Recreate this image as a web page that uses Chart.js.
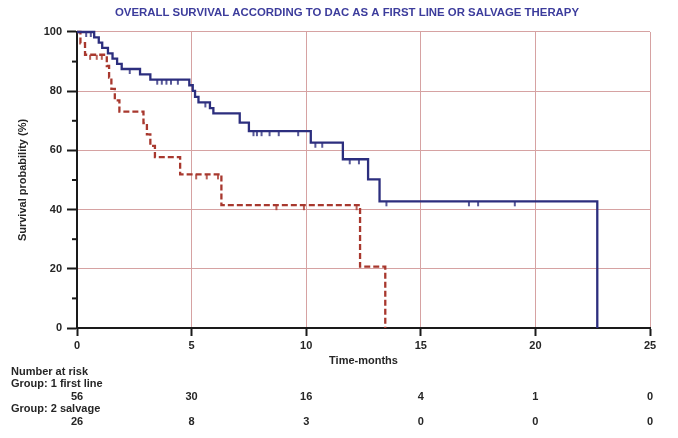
<!DOCTYPE html>
<html><head><meta charset="utf-8">
<script src="https://cdn.jsdelivr.net/npm/chart.js@4.4.0/dist/chart.umd.min.js"></script>
<style>html,body{margin:0;padding:0;background:#fff;}#wrap{width:678px;height:438px;}</style>
</head><body><div id="wrap"><canvas id="c" width="678" height="438"></canvas></div>
<script>
const chartTitle = 'OVERALL SURVIVAL ACCORDING TO DAC AS A FIRST LINE OR SALVAGE THERAPY';
const xTitle = 'Time-months';
const yTitle = 'Survival probability (%)';

// Group 1: first line — step points (time in months, survival % after the event)
const firstLineTimes    = [0, 0.75, 0.95, 1.1, 1.35, 1.55, 1.75, 1.95, 2.75, 3.2, 4.9, 5.05, 5.15, 5.3, 5.8, 5.95, 7.1, 7.5, 10.2, 11.6, 12.7, 13.2, 22.7];
const firstLineSurvival = [100, 98.2, 96.4, 94.6, 92.8, 91.0, 89.2, 87.5, 85.7, 83.9, 82.0, 80.1, 78.1, 76.2, 74.3, 72.5, 69.4, 66.5, 62.6, 57.0, 50.2, 42.8, 0];
const firstLineCensored = [0.4, 0.6, 2.3, 3.5, 3.7, 3.9, 4.1, 4.4, 5.6, 7.7, 7.85, 8.05, 8.4, 8.8, 9.65, 10.4, 10.7, 11.9, 12.3, 13.5, 17.1, 17.5, 19.1];

// Group 2: salvage
const salvageTimes    = [0, 0.15, 0.35, 1.3, 1.4, 1.5, 1.65, 1.85, 2.9, 3.05, 3.2, 3.4, 4.5, 6.3, 12.35, 13.45];
const salvageSurvival = [100, 96.2, 92.3, 88.5, 84.6, 80.8, 76.9, 73.1, 69.2, 65.4, 61.5, 57.7, 51.9, 41.5, 20.7, 0];
const salvageCensored = [0.57, 0.86, 1.08, 5.2, 5.66, 6.15, 8.7, 9.9, 12.2];

// Number at risk table
const riskTimes = [0, 5, 10, 15, 20, 25];
const riskFirstLine = [56, 30, 16, 4, 1, 0];
const riskSalvage = [26, 8, 3, 0, 0, 0];
const riskHeader = 'Number at risk';
const groupLabels = ['Group: 1 first line', 'Group: 2 salvage'];
const yMinorTicks = [10, 30, 50, 70, 90];

const BLUE = '#2c2e7e', RED = '#a8382e', GRID = '#d6a2a2', INK = '#262626';
const FONT = "'Liberation Sans', Arial, sans-serif";

function survAt(times, surv, t) {
  let s = surv[0];
  for (let i = 0; i < times.length; i++) if (times[i] <= t) s = surv[i];
  return s;
}
function tickImg(color) {
  const c = document.createElement('canvas');
  c.width = 4; c.height = 14;
  const g = c.getContext('2d');
  g.strokeStyle = color; g.lineWidth = 1.6;
  g.beginPath(); g.moveTo(2, 7); g.lineTo(2, 12); g.stroke();
  return c;
}
const pts = (ts, ss) => ts.map((t, i) => ({x: t, y: ss[i]}));

Chart.defaults.font.family = FONT;
Chart.defaults.font.weight = 'bold';
Chart.defaults.font.size = 11;
Chart.defaults.color = INK;

const extras = {
  id: 'extras',
  afterDraw(chart) {
    const {ctx, scales: {x, y}} = chart;
    ctx.save();
    ctx.strokeStyle = '#1a1a1a'; ctx.lineWidth = 2;
    yMinorTicks.forEach(v => {
      const py = y.getPixelForValue(v);
      ctx.beginPath(); ctx.moveTo(x.left - 5, py); ctx.lineTo(x.left, py); ctx.stroke();
    });
    ctx.fillStyle = INK;
    ctx.font = 'bold 11px ' + FONT;
    ctx.textBaseline = 'middle';
    ctx.textAlign = 'left';
    const b = chart.chartArea.bottom;
    ctx.fillText(riskHeader, 11, b + 44);
    ctx.fillText(groupLabels[0], 11, b + 56);
    ctx.fillText(groupLabels[1], 11, b + 81);
    ctx.textAlign = 'center';
    riskTimes.forEach((t, i) => {
      const px = x.getPixelForValue(t);
      ctx.fillText(String(riskFirstLine[i]), px, b + 69);
      ctx.fillText(String(riskSalvage[i]), px, b + 94);
    });
    ctx.restore();
  }
};

new Chart(document.getElementById('c'), {
  type: 'scatter',
  data: {
    datasets: [
      {type: 'line', label: 'first line', data: pts(firstLineTimes, firstLineSurvival), stepped: true,
       borderColor: BLUE, borderWidth: 2.3, pointRadius: 0, fill: false, clip: 4},
      {type: 'line', label: 'salvage', data: pts(salvageTimes, salvageSurvival), stepped: true,
       borderColor: RED, borderWidth: 2.3, borderDash: [6, 3], pointRadius: 0, fill: false, clip: 4},
      {label: 'first line censored', data: firstLineCensored.map(t => ({x: t, y: survAt(firstLineTimes, firstLineSurvival, t)})),
       pointStyle: tickImg(BLUE), pointRadius: 3, showLine: false},
      {label: 'salvage censored', data: salvageCensored.map(t => ({x: t, y: survAt(salvageTimes, salvageSurvival, t)})),
       pointStyle: tickImg(RED), pointRadius: 3, showLine: false}
    ]
  },
  options: {
    responsive: false,
    animation: false,
    devicePixelRatio: 1,
    layout: {padding: {left: 16, right: 0, top: 0, bottom: 66}},
    plugins: {
      legend: {display: false},
      tooltip: {enabled: false},
      title: {display: true, text: chartTitle, color: '#3c3c9c', font: {size: 11.4, weight: 'bold'},
              padding: {top: 6.2, bottom: 12.1}}
    },
    scales: {
      x: {
        type: 'linear', min: 0, max: 25,
        ticks: {stepSize: 5, padding: 3, color: INK},
        grid: {color: c => (c.tick && c.tick.value === 0) ? 'rgba(0,0,0,0)' : GRID, lineWidth: 1,
               tickColor: '#1a1a1a', tickLength: 8, tickWidth: 2},
        border: {display: true, color: '#1a1a1a', width: 2},
        title: {display: true, text: xTitle, padding: {top: 4, bottom: 4}},
        afterFit: s => { s.height = 44; }
      },
      y: {
        type: 'linear', min: 0, max: 100,
        ticks: {stepSize: 20, padding: 5, color: INK},
        grid: {color: c => (c.tick && c.tick.value === 0) ? 'rgba(0,0,0,0)' : GRID, lineWidth: 1,
               tickColor: '#1a1a1a', tickLength: 10, tickWidth: 2},
        border: {display: true, color: '#1a1a1a', width: 2},
        title: {display: true, text: yTitle, padding: {top: 0, bottom: 0}},
        afterFit: s => { s.width = 61; }
      },
      yR: {
        type: 'linear', position: 'right', display: true,
        ticks: {display: false}, grid: {display: false}, border: {display: false},
        afterFit: s => { s.width = 28; }
      }
    }
  },
  plugins: [extras]
});
</script></body></html>
